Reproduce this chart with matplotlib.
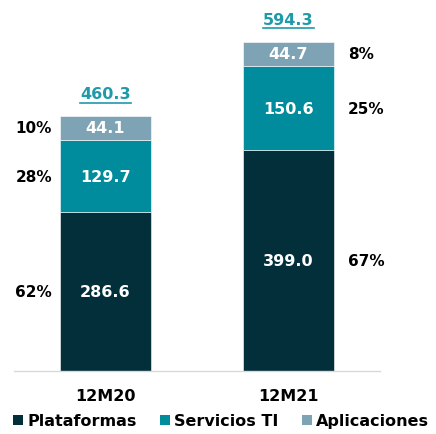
import matplotlib
matplotlib.use('Agg')
import matplotlib.pyplot as plt
from matplotlib.patches import Patch
from matplotlib.lines import Line2D
import numpy as np

plt.rcParams['font.family'] = ['DejaVu Sans']
plt.rcParams['font.weight'] = 'bold'

periods = ['12M20', '12M21']
series = ['Plataformas', 'Servicios TI', 'Aplicaciones']
plataformas = [286.6, 399.0]
servicios = [129.7, 150.6]
aplicaciones = [44.1, 44.7]
totals = [460.3, 594.3]
pct_labels = [['62%', '28%', '10%'], ['67%', '25%', '8%']]

colors = ['#032F3A', '#008C9C', '#7DA3B4']
total_color = '#1F9AA9'

fig = plt.figure(figsize=(4.36, 4.35), dpi=100)
ax = fig.add_axes([14 / 436, 63 / 435, 366 / 436, 367 / 435])

x = np.arange(len(periods))
width = 0.5
values = [plataformas, servicios, aplicaciones]
bottoms = np.zeros(len(periods))
for vals, col in zip(values, colors):
    vals = np.array(vals)
    ax.bar(x, vals, width, bottom=bottoms, color=col, edgecolor='white', linewidth=0.4)
    for i in range(len(periods)):
        ax.text(x[i], bottoms[i] + vals[i] / 2, '{:.1f}'.format(vals[i]),
                ha='center', va='center', color='white', fontsize=11.5, fontweight='bold')
    bottoms = bottoms + vals

# percentage labels: left of first bar, right of second bar
for j, vals in enumerate(values):
    start = np.sum([values[k] for k in range(j)], axis=0) if j > 0 else np.zeros(len(periods))
    for i in range(len(periods)):
        yc = start[i] + vals[i] / 2
        if i == 0:
            ax.annotate(pct_labels[i][j], xy=(-0.5, yc), xytext=(1, 0), textcoords='offset points',
                        ha='left', va='center', fontsize=11, fontweight='bold', color='black')
        else:
            ax.annotate(pct_labels[i][j], xy=(x[i] + width / 2, yc), xytext=(10, 0), textcoords='offset points',
                        ha='left', va='center', fontsize=11, fontweight='bold', color='black')

# totals, underlined
total_texts = []
for i in range(len(periods)):
    t = ax.annotate('{:.1f}'.format(totals[i]), xy=(x[i], totals[i]), xytext=(0, 16),
                    textcoords='offset points', ha='center', va='center',
                    fontsize=11.5, fontweight='bold', color=total_color)
    total_texts.append(t)

ax.set_xlim(-0.5, 1.5)
ax.set_ylim(0, 662)
ax.set_xticks(x)
ax.set_xticklabels(periods, fontsize=11.5, fontweight='bold')
ax.tick_params(axis='x', length=0, pad=12)
ax.set_yticks([])
for s in ['top', 'left', 'right']:
    ax.spines[s].set_visible(False)
ax.spines['bottom'].set_color('#D9D9D9')
ax.spines['bottom'].set_linewidth(1)

handles = [Patch(facecolor=c, edgecolor='none') for c in colors]
fig.legend(handles, series, loc='center', bbox_to_anchor=(221 / 436, 13 / 435), ncol=3,
           frameon=False, fontsize=11.5, handlelength=0.65, handleheight=0.65,
           handletextpad=0.25, columnspacing=1.45, borderaxespad=0, borderpad=0)

fig.canvas.draw()
renderer = fig.canvas.get_renderer()
for t in total_texts:
    bb = t.get_window_extent(renderer)
    inv = fig.transFigure.inverted()
    (x0, y0), (x1, y1) = inv.transform([(bb.x0, bb.y0 - 1.5), (bb.x1, bb.y0 - 1.5)])
    fig.add_artist(Line2D([x0, x1], [y0, y1], transform=fig.transFigure, color=total_color, linewidth=1.2))

fig.savefig('out.png', dpi=100)
